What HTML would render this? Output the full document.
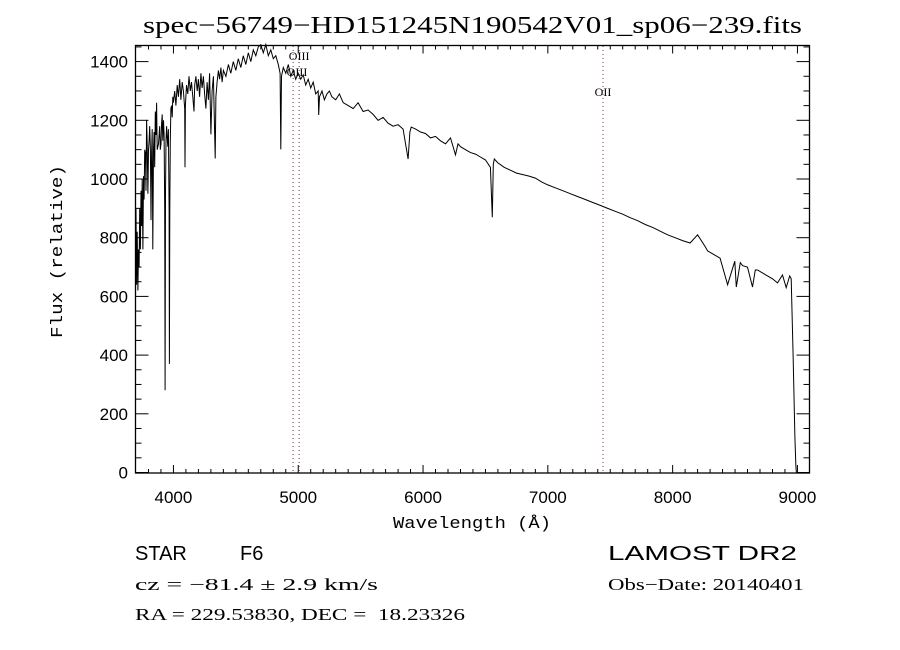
<!DOCTYPE html>
<html><head><meta charset="utf-8"><style>
body{margin:0;background:#fff;}
svg{display:block;}
text{fill:#000;white-space:pre;}
</style></head><body>
<svg id="chart" width="900" height="650" viewBox="0 0 900 650" xmlns="http://www.w3.org/2000/svg" xml:space="preserve">
<rect x="0" y="0" width="900" height="650" fill="#fff"/>
<text x="143" y="33" textLength="659" lengthAdjust="spacingAndGlyphs" font-family="Liberation Serif, serif" font-size="24">spec−56749−HD151245N190542V01_sp06−239.fits</text>
<g id="axes"></g>
<g id="lines"></g>
<path id="spec" fill="none" stroke="#000" stroke-width="1"/>
<rect x="135.5" y="45.5" width="674" height="427.5" fill="none" stroke="#000" stroke-width="1.3"/>
<text transform="translate(62,338) rotate(-90)" textLength="173" lengthAdjust="spacingAndGlyphs" font-family="Liberation Mono, monospace" font-size="17">Flux (relative)</text>
<text x="393" y="528" textLength="158" lengthAdjust="spacingAndGlyphs" font-family="Liberation Mono, monospace" font-size="17">Wavelength (Å)</text>
<text x="135" y="560" font-family="Liberation Sans, sans-serif" font-size="20">STAR</text>
<text x="240" y="560" font-family="Liberation Sans, sans-serif" font-size="20">F6</text>
<text x="135" y="590" textLength="243" lengthAdjust="spacingAndGlyphs" font-family="Liberation Serif, serif" font-size="17">cz = −81.4 ± 2.9 km/s</text>
<text x="135" y="620" textLength="330" lengthAdjust="spacingAndGlyphs" font-family="Liberation Serif, serif" font-size="17">RA = 229.53830, DEC =  18.23326</text>
<text x="608" y="560" textLength="189" lengthAdjust="spacingAndGlyphs" font-family="Liberation Sans, sans-serif" font-size="20">LAMOST DR2</text>
<text x="608" y="590" textLength="196" lengthAdjust="spacingAndGlyphs" font-family="Liberation Serif, serif" font-size="17">Obs−Date: 20140401</text>
</svg>
<script>
const wavelengths=[3700,3705,3710,3715,3720,3725,3730,3735,3740,3745,3750,3755,3760,3765,3770,3775,3780,3785,3790,3795,3800,3805,3810,3815,3820,3825,3830,3835,3840,3845,3850,3855,3860,3865,3870,3880,3890,3895,3900,3905,3910,3915,3920,3925,3930,3933,3936,3940,3945,3950,3955,3960,3965,3968,3971,3975,3980,3985,3990,3995,4000,4010,4020,4030,4040,4050,4060,4070,4080,4090,4093,4096,4105,4115,4125,4135,4145,4155,4165,4170,4180,4190,4200,4210,4220,4230,4240,4250,4260,4270,4280,4290,4300,4310,4320,4335,4340,4350,4360,4370,4380,4390,4400,4420,4440,4460,4480,4500,4520,4540,4560,4580,4600,4620,4640,4660,4680,4700,4720,4740,4760,4780,4800,4820,4840,4855,4860,4866,4880,4900,4920,4940,4960,4980,5000,5020,5040,5060,5080,5100,5120,5140,5160,5164,5170,5190,5210,5230,5250,5270,5300,5330,5360,5400,5440,5480,5520,5560,5600,5640,5680,5720,5760,5800,5840,5880,5895,5905,5940,5980,6020,6060,6100,6140,6180,6220,6260,6280,6300,6340,6380,6420,6460,6500,6540,6555,6563,6571,6600,6650,6700,6750,6800,6850,6900,6950,7000,7060,7120,7180,7240,7300,7360,7420,7480,7540,7600,7660,7720,7780,7840,7900,7960,8020,8080,8140,8200,8260,8280,8320,8380,8440,8498,8510,8542,8560,8600,8640,8662,8680,8720,8760,8800,8840,8880,8910,8938,8950,8965,8980,8988,8992,8996,9000];
const flux=[900,640,820,620,760,700,900,760,960,840,1000,760,1010,930,1100,1090,960,1200,1120,950,1100,1130,1180,1100,860,1090,1170,760,1100,1160,1040,1230,1150,1260,1100,1120,1180,1100,1120,1190,1220,1130,1200,1150,900,280,950,1130,1180,1140,1110,1170,900,370,900,1130,1240,1250,1210,1280,1260,1300,1250,1320,1280,1340,1270,1330,1300,1240,1040,1250,1320,1290,1350,1300,1330,1280,1230,1320,1350,1300,1340,1280,1360,1310,1350,1290,1240,1330,1270,1360,1152,1300,1350,1070,1280,1330,1370,1340,1380,1330,1370,1350,1390,1360,1400,1370,1410,1380,1420,1390,1430,1400,1440,1420,1450,1460,1430,1460,1420,1440,1410,1420,1390,1360,1101,1350,1380,1360,1390,1350,1370,1340,1360,1340,1355,1320,1340,1310,1330,1290,1300,1218,1280,1300,1270,1290,1300,1280,1270,1290,1260,1250,1240,1260,1230,1235,1220,1200,1210,1190,1180,1185,1170,1068,1160,1177,1170,1160,1155,1140,1145,1130,1120,1140,1082,1120,1110,1100,1090,1085,1075,1065,1040,870,1050,1068,1055,1040,1030,1020,1015,1010,1003,990,980,970,960,950,940,930,920,910,900,890,880,868,858,845,835,822,810,800,790,782,810,770,755,745,730,640,720,632,715,705,700,632,690,690,680,670,660,646,673,630,670,660,400,120,20,0];
const refLines=[4959,5007,7442];
const refLabels=[["OIII",5007,60],["OIII",4990,76],["OII",7442,96]];
const yTicks=[0,200,400,600,800,1000,1200,1400];
const xTicks=[4000,5000,6000,7000,8000,9000];

const X0=136,Y0=472.5,W0=3700,KX=0.1248,KY=0.2935;
const sx=w=>X0+(w-W0)*KX;
const sy=f=>Y0-Math.min(f,1458)*KY;
const NS="http://www.w3.org/2000/svg";
const axes=document.getElementById('axes');
function mk(tag,attrs,parent){const e=document.createElementNS(NS,tag);for(const k in attrs)e.setAttribute(k,attrs[k]);parent.appendChild(e);return e;}

let d="";
for(let i=0;i<wavelengths.length;i++){d+=(i?"L":"M")+sx(wavelengths[i]).toFixed(1)+" "+sy(flux[i]).toFixed(1);}
document.getElementById('spec').setAttribute('d',d);

for(let f=0;f<=1450;f+=50){
  const y=sy(f),major=f%200===0,len=major?13:6;
  const t1=mk('line',{x1:135.5,x2:135.5+len,y1:y,y2:y,stroke:'#000','stroke-width':1},axes);
  
  
  const t2=mk('line',{x1:809.5,x2:809.5-len,y1:y,y2:y,stroke:'#000','stroke-width':1},axes);
  
  
}
yTicks.forEach(v=>{
  const t=mk('text',{x:128,y:sy(v)+6,'text-anchor':'end','font-family':'Liberation Sans, sans-serif','font-size':17},axes);
  t.textContent=v;
  
  
});
for(let w=3800;w<=9000;w+=100){
  const x=sx(w),major=w%1000===0,len=major?8:4;
  const t1=mk('line',{x1:x,x2:x,y1:473,y2:473-len,stroke:'#000','stroke-width':1},axes);
  
  
  const t2=mk('line',{x1:x,x2:x,y1:45.5,y2:45.5+len,stroke:'#000','stroke-width':1},axes);
  
  
}
xTicks.forEach(v=>{
  const t=mk('text',{x:sx(v),y:503,'text-anchor':'middle','font-family':'Liberation Sans, sans-serif','font-size':17},axes);
  t.textContent=v;
  
  
});
const lg=document.getElementById('lines');
refLines.forEach(w=>{
  const l=mk('line',{x1:sx(w),x2:sx(w),y1:46,y2:472,stroke:'#7a3030','stroke-width':1,'stroke-dasharray':'1 3'},lg);
  
  
});
refLabels.forEach(r=>{
  const t=mk('text',{x:sx(r[1]),y:r[2],'text-anchor':'middle','font-family':'Liberation Serif, serif','font-size':12},lg);
  t.textContent=r[0];
  
  
});
</script>
</body></html>
